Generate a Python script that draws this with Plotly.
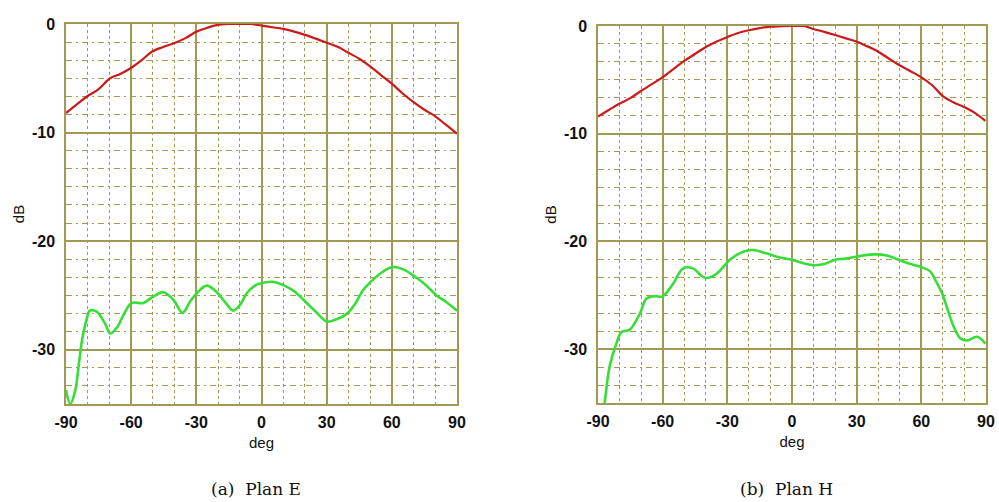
import plotly.graph_objects as go

# Plan E co-polar (red)
e_co_deg = [-90, -85, -80.5, -75, -69.7, -65, -60.5, -55, -50.5, -45, -40.6, -35, -29.8, -25, -20.6, -15, -10, -5, 0, 5, 10, 15, 20, 25, 29.7, 35, 39.2, 45, 50, 55, 60, 65, 70, 75, 80, 85, 90]
e_co_db = [-8.2, -7.4, -6.7, -6.0, -5.0, -4.6, -4.1, -3.3, -2.55, -2.1, -1.8, -1.3, -0.7, -0.35, -0.1, 0.0, 0.0, 0.0, -0.15, -0.3, -0.45, -0.7, -1.0, -1.35, -1.7, -2.1, -2.55, -3.2, -3.9, -4.7, -5.5, -6.4, -7.2, -7.9, -8.5, -9.3, -10.1]

# Plan E cross-polar (green)
e_x_deg = [-90, -88, -85.7, -84, -82.6, -80.5, -79, -75.9, -72, -69.7, -66.7, -63, -59.8, -54.4, -49.8, -45.2, -40.6, -36.3, -33, -29.8, -25.2, -20.6, -16, -13, -10, -6.8, -3, -0.7, 5.4, 10, 15, 19.3, 25, 30, 33, 39.2, 43, 46.8, 50, 54.6, 60, 65.3, 71.5, 76, 80.6, 85, 90]
e_x_db = [-33.7, -35.0, -33.7, -31.2, -29.1, -27.2, -26.4, -26.5, -27.6, -28.5, -28.0, -26.6, -25.7, -25.7, -25.1, -24.7, -25.4, -26.6, -25.6, -24.8, -24.1, -24.7, -25.8, -26.4, -25.9, -24.8, -24.1, -23.9, -23.75, -24.05, -24.6, -25.4, -26.5, -27.4, -27.3, -26.7, -25.8, -24.5, -23.8, -23.0, -22.4, -22.6, -23.4, -24.1, -25.0, -25.6, -26.4]

# Plan H co-polar (red)
h_co_deg = [-90, -85, -79.9, -75, -70.6, -65, -60.1, -55, -50.5, -45, -39.6, -35, -29.6, -25, -19.5, -15, -10.2, -5, 0, 5.3, 9.9, 15, 20, 25, 30.1, 34, 38.6, 44, 49.5, 55, 59.5, 65, 70.3, 75, 79.6, 84.3, 89.7]
h_co_db = [-8.4, -7.8, -7.2, -6.7, -6.1, -5.4, -4.77, -4.0, -3.3, -2.6, -1.9, -1.45, -1.0, -0.65, -0.37, -0.2, -0.06, -0.02, 0.0, 0.0, -0.28, -0.55, -0.84, -1.15, -1.46, -1.8, -2.23, -2.9, -3.6, -4.2, -4.7, -5.5, -6.56, -7.1, -7.5, -8.0, -8.8]

# Plan H cross-polar (green)
h_x_deg = [-88, -86.9, -84.6, -81.5, -79.1, -75.3, -70.6, -67.5, -64, -60.1, -55.1, -50.5, -45.9, -42, -39.6, -35, -28.8, -22.6, -18, -12, -5.5, 0, 5, 9.9, 15, 20, 25, 30.1, 37.8, 44, 49.5, 55, 59.5, 64.2, 66.5, 69.6, 72, 75, 78.1, 81.2, 85.9, 89.7]
h_x_db = [-37.0, -35.0, -31.6, -29.5, -28.4, -28.2, -26.7, -25.3, -25.1, -25.1, -23.9, -22.5, -22.5, -23.2, -23.4, -23.0, -21.7, -20.95, -20.8, -21.1, -21.5, -21.7, -22.0, -22.2, -22.1, -21.7, -21.6, -21.4, -21.2, -21.3, -21.7, -22.1, -22.35, -22.8, -23.6, -24.8, -26.2, -27.9, -29.0, -29.2, -28.85, -29.5]

x_ticks = [-90, -60, -30, 0, 30, 60, 90]
y_ticks = [0, -10, -20, -30]
captions = ["(a)&nbsp;&nbsp;Plan E", "(b)&nbsp;&nbsp;Plan H"]

RED = "#cc1a1a"
GREEN = "#38de38"
GRID = "#a09a55"

fig = go.Figure()
fig.add_trace(go.Scatter(x=e_co_deg, y=e_co_db, mode="lines", line=dict(color=RED, width=2.2), line_shape="spline", xaxis="x", yaxis="y"))
fig.add_trace(go.Scatter(x=e_x_deg, y=e_x_db, mode="lines", line=dict(color=GREEN, width=2.6), line_shape="spline", xaxis="x", yaxis="y"))
fig.add_trace(go.Scatter(x=h_co_deg, y=h_co_db, mode="lines", line=dict(color=RED, width=2.2), line_shape="spline", xaxis="x2", yaxis="y2"))
fig.add_trace(go.Scatter(x=h_x_deg, y=h_x_db, mode="lines", line=dict(color=GREEN, width=2.6), line_shape="spline", xaxis="x2", yaxis="y2"))

W, H = 999, 502
def xd(a, b):
    return [a / W, b / W]
def yd(top, bot):
    return [1 - bot / H, 1 - top / H]

tickfont = dict(family="Liberation Sans, Arial", size=16, color="#111111")
titlefont = dict(family="Liberation Sans, Arial", size=15, color="#111111")

def xaxis_cfg(dom, anchor):
    return dict(domain=dom, anchor=anchor, range=[-90, 90], tickvals=x_ticks,
                ticktext=[f"<b>{v}</b>" for v in x_ticks], tickfont=tickfont,
                showgrid=True, gridcolor=GRID, gridwidth=1.5,
                minor=dict(dtick=10, tick0=0, showgrid=True, gridcolor=GRID, griddash="dot", gridwidth=1),
                showline=True, linecolor=GRID, linewidth=1.5, mirror=True, zeroline=False,
                ticks="", automargin=False, ticklabelstandoff=3,
                title=dict(text="deg", font=titlefont, standoff=8), fixedrange=True)

def yaxis_cfg(dom, anchor):
    return dict(domain=dom, anchor=anchor, range=[-35, 0], tickvals=y_ticks,
                ticktext=[f"<b>{v}</b>" for v in y_ticks], tickfont=tickfont,
                showgrid=True, gridcolor=GRID, gridwidth=1.5,
                minor=dict(dtick=10 / 6, tick0=0, showgrid=True, gridcolor=GRID, griddash="6px,4px,2px,4px", gridwidth=1),
                showline=True, linecolor=GRID, linewidth=1.5, mirror=True, zeroline=False,
                ticks="", automargin=False, ticklabelstandoff=6,
                title=dict(text="dB", font=titlefont, standoff=4), fixedrange=True)

fig.update_layout(
    width=W, height=H, margin=dict(l=0, r=0, t=0, b=0, autoexpand=False),
    paper_bgcolor="white", plot_bgcolor="white", showlegend=False,
    xaxis=xaxis_cfg(xd(66, 457), "y"),
    yaxis=yaxis_cfg(yd(24, 404), "x"),
    xaxis2=xaxis_cfg(xd(598, 986), "y2"),
    yaxis2=yaxis_cfg(yd(26, 403), "x2"),
    annotations=[
        dict(text=captions[0], x=256 / W, y=1 - 489 / H, xref="paper", yref="paper", showarrow=False,
             font=dict(family="DejaVu Serif, Liberation Serif", size=17, color="#111111"), xanchor="center", yanchor="middle"),
        dict(text=captions[1], x=786 / W, y=1 - 489 / H, xref="paper", yref="paper", showarrow=False,
             font=dict(family="DejaVu Serif, Liberation Serif", size=17, color="#111111"), xanchor="center", yanchor="middle"),
    ],
)

fig.write_html("out.html", config={"displayModeBar": False},
               post_script="document.body.style.margin='0px';document.body.style.padding='0px';")
